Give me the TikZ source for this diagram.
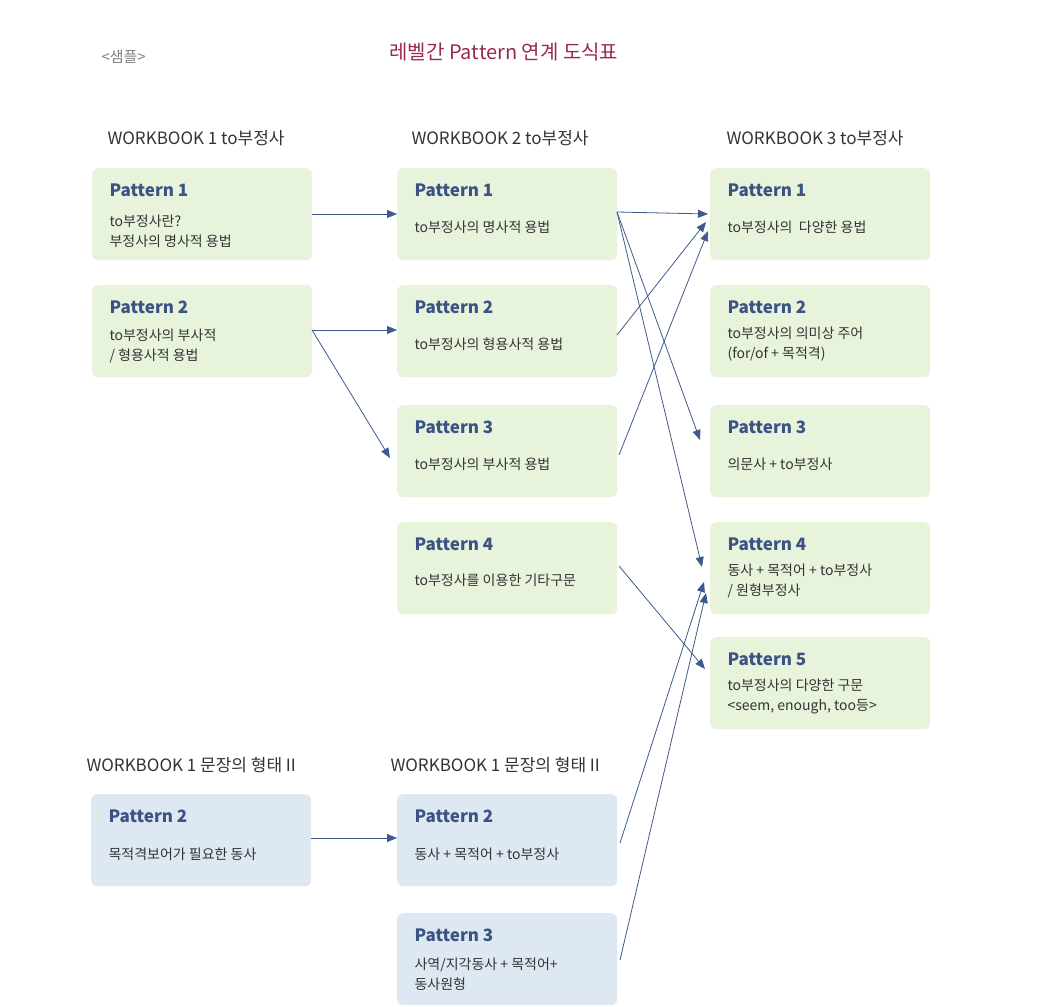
\documentclass[tikz,border=0pt]{standalone}
\usepackage{fontspec}
\setmainfont{Noto Sans CJK KR}
\usetikzlibrary{arrows.meta}
\definecolor{gfill}{HTML}{E8F3DC}
\definecolor{bfill}{HTML}{DEE8F3}
\definecolor{ptc}{HTML}{3B5384}
\definecolor{arc}{HTML}{3D5A8A}
\definecolor{ttl}{HTML}{9B2A4A}
\definecolor{txt}{HTML}{333333}
\begin{document}
\begin{tikzpicture}[x=1pt,y=-1pt,
  box/.style={draw=none,fill=gfill,rounded corners=6pt,minimum width=220pt,minimum height=92pt,inner sep=0pt,anchor=north west},
  bbox/.style={box,fill=bfill},
  pt/.style={anchor=west,text=ptc,font=\fontsize{17}{20}\selectfont\bfseries},
  bd/.style={anchor=west,text=txt,font=\fontsize{14}{20}\selectfont,align=left},
  hd/.style={anchor=west,text=txt,font=\fontsize{17}{20}\selectfont},
  ar/.style={draw=arc,line width=0.8pt,-{Triangle[length=10pt,width=8pt]}}]
\useasboundingbox (0,0) rectangle (1048,1006);
\node[anchor=west,text=gray,font=\fontsize{15}{18}\selectfont] (smp) at (98,57) {<샘플>};
\node[anchor=west,text=ttl,font=\fontsize{20}{24}\selectfont] (ttl) at (386,52) {레벨간 Pattern 연계 도식표};
\node[hd] (h1) at (104,138) {WORKBOOK 1 to부정사};
\node[hd] (h2) at (408,138) {WORKBOOK 2 to부정사};
\node[hd] (h3) at (723,138) {WORKBOOK 3 to부정사};
\node[hd] (h4) at (83,765) {WORKBOOK 1 문장의 형태 II};
\node[hd] (h5) at (387,765) {WORKBOOK 1 문장의 형태 II};
% column 1
\node[box] (a1) at (92,168) {};
\node[pt] at (106,190) {Pattern 1};
\node[bd] at (106,231) {to부정사란?\\부정사의 명사적 용법};
\node[box] (a2) at (92,285) {};
\node[pt] at (106,307) {Pattern 2};
\node[bd] at (106,346) {to부정사의 부사적\\/ 형용사적 용법};
\node[bbox] (a3) at (91,794) {};
\node[pt] at (105,816) {Pattern 2};
\node[bd] at (105,854) {목적격보어가 필요한 동사};
% column 2
\node[box] (b1) at (397,168) {};
\node[pt] at (411,190) {Pattern 1};
\node[bd] at (411,227) {to부정사의 명사적 용법};
\node[box] (b2) at (397,285) {};
\node[pt] at (411,307) {Pattern 2};
\node[bd] at (411,344) {to부정사의 형용사적 용법};
\node[box] (b3) at (397,405) {};
\node[pt] at (411,427) {Pattern 3};
\node[bd] at (411,464) {to부정사의 부사적 용법};
\node[box] (b4) at (397,522) {};
\node[pt] at (411,544) {Pattern 4};
\node[bd] at (411,580) {to부정사를 이용한 기타구문};
\node[bbox] (b5) at (397,794) {};
\node[pt] at (411,816) {Pattern 2};
\node[bd] at (411,854) {동사 + 목적어 + to부정사};
\node[bbox] (b6) at (397,913) {};
\node[pt] at (411,935) {Pattern 3};
\node[bd] at (411,974) {사역/지각동사 + 목적어+\\동사원형};
% column 3
\node[box] (c1) at (710,168) {};
\node[pt] at (724,190) {Pattern 1};
\node[bd] at (724,227) {to부정사의 \ 다양한 용법};
\node[box] (c2) at (710,285) {};
\node[pt] at (724,307) {Pattern 2};
\node[bd] at (724,344) {to부정사의 의미상 주어\\(for/of + 목적격)};
\node[box] (c3) at (710,405) {};
\node[pt] at (724,427) {Pattern 3};
\node[bd] at (724,464) {의문사 + to부정사};
\node[box] (c4) at (710,522) {};
\node[pt] at (724,544) {Pattern 4};
\node[bd] at (724,581) {동사 + 목적어 + to부정사\\/ 원형부정사};
\node[box] (c5) at (710,637) {};
\node[pt] at (724,659) {Pattern 5};
\node[bd] at (724,696) {to부정사의 다양한 구문\\<seem, enough, too등>};
% anchors
\coordinate (a1o) at (312,214);
\coordinate (a2o) at (312,330);
\coordinate (a3o) at (311,838);
\coordinate (b1i) at (397,214);
\coordinate (b2i) at (397,330);
\coordinate (b3i) at (390,458);
\coordinate (b5i) at (397,838);
\coordinate (b1o) at (617,212);
\coordinate (b2o) at (617,335);
\coordinate (b3o) at (619,455);
\coordinate (b4o) at (619,566);
\coordinate (b5o) at (620,843);
\coordinate (b6o) at (620,960);
\coordinate (c1i) at (708,214);
\coordinate (c1j) at (706,222);
\coordinate (c1k) at (708,231);
\coordinate (c3i) at (700,440);
\coordinate (c4i) at (702,567);
\coordinate (c4j) at (704,582);
\coordinate (c4k) at (706,593);
\coordinate (c5i) at (705,669);
\draw[ar] (a1o) -- (b1i);
\draw[ar] (a2o) -- (b2i);
\draw[ar] (a2o) -- (b3i);
\draw[ar] (a3o) -- (b5i);
\draw[ar] (b1o) -- (c1i);
\draw[ar] (b1o) -- (c3i);
\draw[ar] (b1o) -- (c4i);
\draw[ar] (b2o) -- (c1j);
\draw[ar] (b3o) -- (c1k);
\draw[ar] (b4o) -- (c5i);
\draw[ar] (b5o) -- (c4j);
\draw[ar] (b6o) -- (c4k);
\end{tikzpicture}
\end{document}
